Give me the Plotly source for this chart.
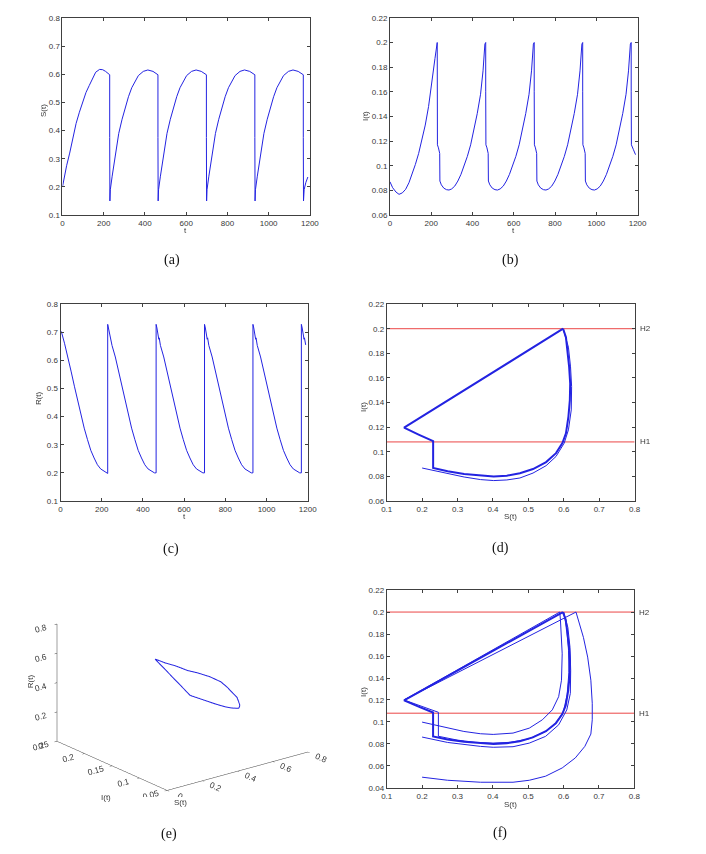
import plotly.graph_objects as go

# ---------------- data ----------------
T_TICKS = [0, 200, 400, 600, 800, 1000, 1200]

# (a) S(t)
T_S = [0, 10, 20, 35, 50, 66, 82, 98, 114, 130, 145, 161, 180, 195, 209, 222, 229, 229, 230,
       232, 241, 257, 273, 289, 305, 320, 336, 352, 368, 392, 414, 439, 459, 463, 463, 464,
       466, 475, 491, 507, 523, 539, 554, 570, 586, 602, 626, 648, 673, 694, 698, 698, 699,
       701, 710, 726, 742, 758, 774, 789, 805, 821, 837, 861, 883, 908, 929, 933, 933, 934,
       936, 945, 961, 977, 993, 1009, 1024, 1040, 1056, 1072, 1096, 1118, 1143, 1164, 1168, 1168, 1169,
       1172, 1180, 1190]
S_VALS = [0.20, 0.24, 0.275, 0.32, 0.375, 0.425, 0.465, 0.50, 0.535, 0.56, 0.585, 0.607, 0.617, 0.616, 0.61, 0.602, 0.598, 0.375, 0.15,
          0.19, 0.238, 0.32, 0.39, 0.44, 0.484, 0.52, 0.552, 0.575, 0.595, 0.61, 0.615, 0.61, 0.60, 0.598, 0.375, 0.15,
          0.19, 0.238, 0.32, 0.39, 0.44, 0.484, 0.52, 0.552, 0.575, 0.595, 0.61, 0.615, 0.61, 0.60, 0.598, 0.375, 0.15,
          0.19, 0.238, 0.32, 0.39, 0.44, 0.484, 0.52, 0.552, 0.575, 0.595, 0.61, 0.615, 0.61, 0.60, 0.598, 0.375, 0.15,
          0.19, 0.238, 0.32, 0.39, 0.44, 0.484, 0.52, 0.552, 0.575, 0.595, 0.61, 0.615, 0.61, 0.60, 0.598, 0.375, 0.15,
          0.19, 0.215, 0.235]
S_TICKS = [0.1, 0.2, 0.3, 0.4, 0.5, 0.6, 0.7, 0.8]
S_TICKTEXT = ["0.1", "0.2", "0.3", "0.4", "0.5", "0.6", "0.7", "0.8"]

# (b) I(t)
T_I = [0, 13, 29, 44, 60, 76, 92, 108, 123, 139, 155, 171, 187, 202, 218, 229,
       229, 230, 235, 241, 242, 249, 261, 274, 286, 299, 314, 329, 344, 359, 375, 391, 407, 423, 439, 451, 460, 464,
       464, 465, 470, 476, 477, 484, 496, 509, 521, 534, 549, 564, 579, 594, 610, 626, 642, 658, 674, 686, 695, 699,
       699, 700, 705, 711, 712, 719, 731, 744, 756, 769, 784, 799, 814, 829, 845, 861, 877, 893, 909, 921, 930, 934,
       934, 935, 940, 946, 947, 954, 966, 979, 991, 1004, 1019, 1034, 1049, 1064, 1080, 1096, 1112, 1128, 1144, 1156, 1165, 1169,
       1169, 1170, 1180, 1190]
I_VALS = [0.087, 0.0822, 0.0787, 0.0768, 0.078, 0.0809, 0.0862, 0.093, 0.101, 0.110, 0.121, 0.133, 0.148, 0.165, 0.187, 0.2,
          0.16, 0.117, 0.1145, 0.110, 0.0876, 0.0845, 0.0818, 0.0806, 0.0803, 0.0812, 0.0835, 0.0876, 0.093, 0.0996, 0.1076, 0.117, 0.129, 0.1424, 0.158, 0.177, 0.1987, 0.2,
          0.16, 0.117, 0.1145, 0.110, 0.0876, 0.0845, 0.0818, 0.0806, 0.0803, 0.0812, 0.0835, 0.0876, 0.093, 0.0996, 0.1076, 0.117, 0.129, 0.1424, 0.158, 0.177, 0.1987, 0.2,
          0.16, 0.117, 0.1145, 0.110, 0.0876, 0.0845, 0.0818, 0.0806, 0.0803, 0.0812, 0.0835, 0.0876, 0.093, 0.0996, 0.1076, 0.117, 0.129, 0.1424, 0.158, 0.177, 0.1987, 0.2,
          0.16, 0.117, 0.1145, 0.110, 0.0876, 0.0845, 0.0818, 0.0806, 0.0803, 0.0812, 0.0835, 0.0876, 0.093, 0.0996, 0.1076, 0.117, 0.129, 0.1424, 0.158, 0.177, 0.1987, 0.2,
          0.16, 0.117, 0.113, 0.109]
I_TICKS = [0.06, 0.08, 0.10, 0.12, 0.14, 0.16, 0.18, 0.20, 0.22]
I_TICKTEXT = ["0.06", "0.08", "0.1", "0.12", "0.14", "0.16", "0.18", "0.2", "0.22"]

# (c) R(t)
T_R = [0, 5, 20, 36, 52, 68, 84, 100, 115, 131, 147, 163, 179, 195, 210, 226, 229,
       229, 233, 237, 242, 244, 246, 250, 266, 282, 298, 314, 330, 345, 361, 377, 393, 409, 425, 440, 456, 464,
       464, 468, 472, 477, 479, 481, 485, 501, 517, 533, 549, 565, 580, 596, 612, 628, 644, 660, 675, 691, 699,
       699, 703, 707, 712, 714, 716, 720, 736, 752, 768, 784, 800, 815, 831, 847, 863, 879, 895, 910, 926, 934,
       934, 938, 942, 947, 949, 951, 955, 971, 987, 1003, 1019, 1035, 1050, 1066, 1082, 1098, 1114, 1130, 1145, 1161, 1169,
       1169, 1173, 1177, 1182, 1184, 1186, 1190]
R_VALS = [0.705, 0.70, 0.659, 0.612, 0.559, 0.506, 0.453, 0.406, 0.359, 0.318, 0.28, 0.253, 0.229, 0.214, 0.206, 0.199, 0.198,
          0.728, 0.715, 0.695, 0.675, 0.68, 0.665, 0.653, 0.612, 0.559, 0.506, 0.453, 0.406, 0.359, 0.318, 0.28, 0.253, 0.229, 0.214, 0.206, 0.2, 0.2,
          0.728, 0.715, 0.695, 0.675, 0.68, 0.665, 0.653, 0.612, 0.559, 0.506, 0.453, 0.406, 0.359, 0.318, 0.28, 0.253, 0.229, 0.214, 0.206, 0.2, 0.2,
          0.728, 0.715, 0.695, 0.675, 0.68, 0.665, 0.653, 0.612, 0.559, 0.506, 0.453, 0.406, 0.359, 0.318, 0.28, 0.253, 0.229, 0.214, 0.206, 0.2, 0.2,
          0.728, 0.715, 0.695, 0.675, 0.68, 0.665, 0.653, 0.612, 0.559, 0.506, 0.453, 0.406, 0.359, 0.318, 0.28, 0.253, 0.229, 0.214, 0.206, 0.2, 0.2,
          0.728, 0.715, 0.695, 0.675, 0.68, 0.665, 0.655]
R_TICKS = [0.1, 0.2, 0.3, 0.4, 0.5, 0.6, 0.7, 0.8]
R_TICKTEXT = ["0.1", "0.2", "0.3", "0.4", "0.5", "0.6", "0.7", "0.8"]

# thresholds
H_LEVELS = [0.108, 0.2]
H_NAMES = ["H1", "H2"]

# phase-plane axes
PS_RANGE = [0.1, 0.8]
PS_TICKS = [0.1, 0.2, 0.3, 0.4, 0.5, 0.6, 0.7, 0.8]
PS_TICKTEXT = ["0.1", "0.2", "0.3", "0.4", "0.5", "0.6", "0.7", "0.8"]
PF_I_TICKS = [0.04, 0.06, 0.08, 0.10, 0.12, 0.14, 0.16, 0.18, 0.20, 0.22]
PF_I_TICKTEXT = ["0.04", "0.06", "0.08", "0.1", "0.12", "0.14", "0.16", "0.18", "0.2", "0.22"]

# (d)/(f) limit cycle
LC_S = [0.598, 0.149, 0.19, 0.231, 0.231, 0.272, 0.3185, 0.365, 0.402, 0.439, 0.476, 0.513, 0.55, 0.578,
        0.596, 0.606, 0.613, 0.617, 0.618, 0.615, 0.611, 0.606, 0.598]
LC_I = [0.2, 0.1197, 0.114, 0.1086, 0.0868, 0.0841, 0.082, 0.0806, 0.080, 0.0806, 0.0825, 0.086, 0.0916, 0.0989,
        0.107, 0.115, 0.1286, 0.142, 0.1555, 0.169, 0.1825, 0.193, 0.2]

# (d) first (transient) orbit
D0_S = [0.2, 0.272, 0.3185, 0.365, 0.402, 0.439, 0.476, 0.513, 0.55, 0.578, 0.601, 0.613, 0.621, 0.622, 0.619, 0.613, 0.601, 0.598]
D0_I = [0.0868, 0.0822, 0.0795, 0.0774, 0.0766, 0.0771, 0.0787, 0.0827, 0.0887, 0.0962, 0.107, 0.1178, 0.134, 0.153, 0.169, 0.185, 0.1987, 0.2]

# (f) orbits from several initial values
FB_S = [0.2, 0.272, 0.318, 0.365, 0.401, 0.457, 0.503, 0.54, 0.568, 0.586, 0.594, 0.596, 0.594, 0.591, 0.589, 0.149]
FB_I = [0.0999, 0.0944, 0.0914, 0.0893, 0.0887, 0.0899, 0.0944, 0.102, 0.111, 0.123, 0.138, 0.162, 0.18, 0.193, 0.2, 0.12]
FC_S = [0.2, 0.272, 0.365, 0.457, 0.503, 0.549, 0.596, 0.633, 0.66, 0.677, 0.681, 0.681, 0.677, 0.668, 0.656, 0.642, 0.635, 0.149]
FC_I = [0.0498, 0.047, 0.0452, 0.0452, 0.047, 0.0507, 0.0582, 0.0673, 0.0778, 0.089, 0.102, 0.117, 0.138, 0.159, 0.177, 0.192, 0.2, 0.12]
FD_S = [0.2, 0.272, 0.365, 0.401, 0.457, 0.503, 0.549, 0.586, 0.609, 0.619, 0.62, 0.618, 0.612, 0.603, 0.6]
FD_I = [0.0863, 0.0814, 0.0778, 0.077, 0.0775, 0.0808, 0.0869, 0.0974, 0.111, 0.126, 0.147, 0.168, 0.186, 0.1985, 0.2]
FE_S = [0.149, 0.246, 0.246, 0.3, 0.35, 0.4, 0.45, 0.5, 0.55, 0.58, 0.6, 0.61, 0.615, 0.614, 0.609, 0.6]
FE_I = [0.12, 0.1088, 0.087, 0.0835, 0.0815, 0.0808, 0.0815, 0.0845, 0.0915, 0.0995, 0.11, 0.125, 0.145, 0.165, 0.185, 0.2]

# (e) limit cycle in (S, I, R) space
E_S = [0.15, 0.19, 0.232, 0.232, 0.28, 0.34, 0.40, 0.44, 0.475, 0.51, 0.535, 0.56, 0.58, 0.605, 0.613, 0.617, 0.615, 0.61, 0.60, 0.15]
E_I = [0.12, 0.114, 0.109, 0.087, 0.084, 0.0812, 0.0803, 0.081, 0.0825, 0.086, 0.091, 0.097, 0.105, 0.115, 0.129, 0.142, 0.158, 0.177, 0.2, 0.12]
E_R = [0.73, 0.70, 0.675, 0.68, 0.653, 0.612, 0.559, 0.506, 0.453, 0.406, 0.359, 0.318, 0.28, 0.253, 0.229, 0.214, 0.206, 0.202, 0.2, 0.73]
E_S_TICKS = [0, 0.2, 0.4, 0.6, 0.8]
E_S_TEXT = ["0", "0.2", "0.4", "0.6", "0.8"]
E_I_TICKS = [0.05, 0.1, 0.15, 0.2, 0.25]
E_I_TEXT = ["0.05", "0.1", "0.15", "0.2", "0.25"]
E_R_TICKS = [0, 0.2, 0.4, 0.6, 0.8]
E_R_TEXT = ["0", "0.2", "0.4", "0.6", "0.8"]

CAPTIONS = ["(a)", "(b)", "(c)", "(d)", "(e)", "(f)"]

# ---------------- styling ----------------
W, H = 706, 854
BLUE = "rgb(35,35,225)"
RED = "rgb(235,70,70)"
AX = "#404040"
TXT = "#383838"
SANS = "Liberation Sans, Arial, sans-serif"
SERIF = "Liberation Serif, Times New Roman, serif"
TF = dict(family=SANS, size=8, color=TXT)
TF3 = dict(family=SANS, size=10, color=TXT)


def px(x):
    return x / W


def py(y):
    return 1 - y / H


def axis(domain, rng, tickvals, ticktext, anchor):
    return dict(domain=domain, range=rng, tickvals=tickvals, ticktext=ticktext, anchor=anchor,
                showline=True, linecolor=AX, linewidth=1, mirror="ticks", ticks="inside",
                ticklen=3, tickcolor=AX, tickwidth=1, showgrid=False, zeroline=False,
                tickfont=TF, fixedrange=True)


fig = go.Figure()
thin = dict(color=BLUE, width=1)
thick = dict(color=BLUE, width=2)

fig.add_trace(go.Scatter(x=T_S, y=S_VALS, mode="lines", line=thin, xaxis="x", yaxis="y"))
fig.add_trace(go.Scatter(x=T_I, y=I_VALS, mode="lines", line=thin, xaxis="x2", yaxis="y2"))
fig.add_trace(go.Scatter(x=T_R, y=R_VALS, mode="lines", line=thin, xaxis="x3", yaxis="y3"))

for xa, ya in (("x4", "y4"), ("x5", "y5")):
    for h in H_LEVELS:
        fig.add_trace(go.Scatter(x=PS_RANGE, y=[h, h], mode="lines", line=dict(color=RED, width=1),
                                 xaxis=xa, yaxis=ya, cliponaxis=False))

fig.add_trace(go.Scatter(x=D0_S, y=D0_I, mode="lines", line=thin, xaxis="x4", yaxis="y4"))
fig.add_trace(go.Scatter(x=LC_S, y=LC_I, mode="lines", line=thick, xaxis="x4", yaxis="y4"))

for xs, ys in ((FB_S, FB_I), (FC_S, FC_I), (FD_S, FD_I), (FE_S, FE_I)):
    fig.add_trace(go.Scatter(x=xs, y=ys, mode="lines", line=thin, xaxis="x5", yaxis="y5"))
fig.add_trace(go.Scatter(x=LC_S, y=LC_I, mode="lines", line=thick, xaxis="x5", yaxis="y5"))

fig.add_trace(go.Scatter3d(x=E_S, y=E_I, z=E_R, mode="lines", line=dict(color=BLUE, width=2),
                           scene="scene"))

dom_a_x = [px(57.7), px(310.5)]
dom_b_x = [px(392.3), px(645.3)]
dom_c_x = [px(55.7), px(308.3)]
dom_d_x = [px(389.0), px(642.3)]
dom_f_x = [px(389.0), px(642.0)]
dom_top_y = [py(213.3), py(14.0)]
dom_mid_y = [py(502.3), py(303.3)]
dom_bot_y = [py(792.3), py(592.3)]

r = 1.5
eye = dict(x=-0.577 * r, y=-0.738 * r, z=0.349 * r)
ZOOM3D = 1.64

scene_axis = dict(showbackground=False, showgrid=False, zeroline=False, showline=True,
                  linecolor=AX, linewidth=1, ticks="outside", ticklen=3, tickcolor=AX,
                  tickfont=TF3, showspikes=False, title=dict(text=""))

fig.update_layout(
    width=W, height=H, margin=dict(l=0, r=0, t=0, b=0),
    paper_bgcolor="white", plot_bgcolor="white", showlegend=False,
    xaxis=axis(dom_a_x, [0, 1200], T_TICKS, [str(v) for v in T_TICKS], "y"),
    yaxis=axis(dom_top_y, [0.1, 0.8], S_TICKS, S_TICKTEXT, "x"),
    xaxis2=axis(dom_b_x, [0, 1200], T_TICKS, [str(v) for v in T_TICKS], "y2"),
    yaxis2=axis(dom_top_y, [0.06, 0.22], I_TICKS, I_TICKTEXT, "x2"),
    xaxis3=axis(dom_c_x, [0, 1200], T_TICKS, [str(v) for v in T_TICKS], "y3"),
    yaxis3=axis(dom_mid_y, [0.1, 0.8], R_TICKS, R_TICKTEXT, "x3"),
    xaxis4=axis(dom_d_x, PS_RANGE, PS_TICKS, PS_TICKTEXT, "y4"),
    yaxis4=axis(dom_mid_y, [0.06, 0.22], I_TICKS, I_TICKTEXT, "x4"),
    xaxis5=axis(dom_f_x, PS_RANGE, PS_TICKS, PS_TICKTEXT, "y5"),
    yaxis5=axis(dom_bot_y, [0.04, 0.22], PF_I_TICKS, PF_I_TICKTEXT, "x5"),
    scene=dict(
        domain=dict(x=[px(28), px(334)], y=[py(801.5), py(581.5)]),
        xaxis=dict(scene_axis, range=[0, 0.8], tickvals=E_S_TICKS, ticktext=E_S_TEXT),
        yaxis=dict(scene_axis, range=[0.05, 0.25], tickvals=E_I_TICKS, ticktext=E_I_TEXT),
        zaxis=dict(scene_axis, range=[0, 0.8], tickvals=E_R_TICKS, ticktext=E_R_TEXT),
        aspectmode="manual",
        aspectratio=dict(x=1.0 * ZOOM3D, y=1.0 * ZOOM3D, z=0.7 * ZOOM3D),
        camera=dict(eye=eye, up=dict(x=0, y=0, z=1), center=dict(x=0, y=0, z=0),
                    projection=dict(type="orthographic")),
        bgcolor="white",
    ),
)

ann = []


def label(text, x, y, angle=0, font=TF):
    ann.append(dict(text=text, x=px(x), y=py(y), xref="paper", yref="paper", showarrow=False,
                    xanchor="center", yanchor="middle", textangle=angle, font=font))


# axis titles
label("t", 183, 229)
label("S(t)", 39, 108, -90)
label("t", 518.8, 229)
label("I(t)", 368, 113, -90)
label("t", 182, 518)
label("R(t)", 34, 398, -90)
label("S(t)", 515.6, 518)
label("I(t)", 365, 407, -90)
label("S(t)", 515.5, 809)
label("I(t)", 365, 695, -90)
# 3-D axis titles
label("R(t)", 25, 684, -90)
label("I(t)", 102, 802)
label("S(t)", 178, 807)

# captions
CF = dict(family=SERIF, size=14, color="#111111")
for text, (x, y) in zip(CAPTIONS, [(170, 259), (515, 259), (169, 551), (505, 550), (167, 839), (505, 838)]):
    label(text, x, y, font=CF)

# threshold names
for xa, ya in (("x4", "y4"), ("x5", "y5")):
    for h, name in zip(H_LEVELS, H_NAMES):
        ann.append(dict(text=name, x=PS_RANGE[1], y=h, xref=xa, yref=ya, showarrow=False,
                        xanchor="left", yanchor="middle", xshift=3, font=TF))

fig.update_layout(annotations=ann)
fig.write_html("out.html", config={"displayModeBar": False},
               post_script="document.body.style.margin='0px';")
